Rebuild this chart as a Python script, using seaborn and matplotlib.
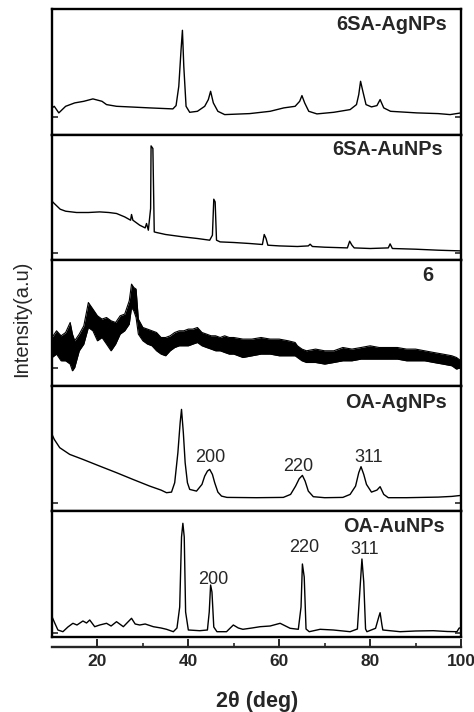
import numpy as np
import pandas as pd
import matplotlib
matplotlib.use("Agg")
import matplotlib.pyplot as plt
import seaborn as sns

# 2theta (deg) and intensity (a.u.), one panel per sample
ag6_x = [10, 10.5, 11.5, 13, 15, 17, 19, 21, 22, 24.2, 27, 31.5, 36.6, 37.3, 37.9, 38.4, 38.7,
         39.0, 39.5, 40.3, 42, 43.6, 44.4, 44.9, 45.5, 46.5, 48, 53.5, 58, 61, 63.5, 64.5, 65,
         65.6, 66.5, 68.3, 72, 75.6, 77, 77.5, 77.9, 78.4, 79.1, 80.3, 81.5, 82.2, 83, 84.5,
         90.3, 95, 97.6, 100]
ag6_y = [26.7, 28.3, 21.7, 28.3, 31.7, 33.3, 35.7, 33.3, 30, 28.3, 27.7, 26.7, 25.7, 29, 48.3,
         85, 104.3, 68.3, 28.3, 22.3, 23.3, 28.3, 35, 43.3, 31.7, 23.3, 20, 21, 23.3, 26.7, 28.3,
         33.3, 39, 31.7, 23.3, 20.7, 22.3, 25, 30, 40, 53.3, 43.3, 30, 27.7, 29, 35, 26.7, 23.3,
         21.7, 21, 20, 21.7]

au6_x = [10, 10.5, 11.8, 13, 15.4, 18, 20.5, 22.5, 24.2, 26, 27.3, 27.5, 27.8, 29.3, 30.5,
         30.8, 31.2, 31.7, 31.8, 32.2, 32.5, 33, 35, 38.9, 42, 44.7, 45.3, 45.6, 45.9, 46.2, 47,
         50, 53.5, 56.3, 56.7, 57.1, 57.5, 60, 64, 66.4, 66.8, 67.3, 70, 75, 75.5, 76, 76.5, 80,
         84, 84.4, 84.9, 90, 95, 100]
au6_y = [59, 56.7, 51, 49, 47.7, 47.7, 48.3, 47.7, 46.7, 43.3, 40, 45.7, 40, 35, 32.3, 36.7,
         30, 51.7, 114.3, 111.7, 28.3, 27.7, 25.7, 23.3, 21.7, 20, 25, 61, 58.3, 20, 18.3, 17.7,
         16.7, 15.7, 25.7, 21.7, 15, 14.3, 13.7, 14.3, 16, 13.7, 13, 12.3, 19, 15, 12.3, 11.7,
         12.3, 16.3, 11.7, 11, 10, 9.3]

# compound 6: very noisy, kept as the upper / lower edge of the noise band
c6_x = [10, 11, 12, 13, 14, 14.5, 15, 16, 17, 18, 19, 20, 21, 22, 23, 24, 25, 26, 27, 27.5, 28,
        28.5, 29, 30, 31, 32, 33, 34, 35, 36, 37, 38, 39, 40, 41, 42, 43, 44, 45, 46, 47, 48,
        49, 50, 52, 54, 56, 58, 60, 62, 63.5, 64, 65, 66, 68, 70, 72, 74, 76, 78, 80, 82, 84,
        86, 88, 90, 92, 94, 96, 98, 99, 100]
c6_hi = [48.3, 55, 50, 53.3, 63.3, 51.7, 45, 51.7, 60, 83.3, 76.7, 70, 66.7, 68.3, 65, 63.3, 70,
         71.7, 85, 101.7, 98.3, 96.7, 66.7, 58.3, 56.7, 55, 53.3, 48.3, 48.3, 50, 53.3, 55, 55,
         56.7, 56.7, 58.3, 53.3, 51.7, 50, 50, 48.3, 50, 48.3, 48.3, 46.7, 46.7, 48.3, 46.7, 46.7,
         45, 43.3, 40, 36.7, 35, 36.7, 35, 35, 38.3, 36.7, 38.3, 40, 38.3, 38.3, 38.3, 36.7, 36.7,
         35, 33.3, 31.7, 30, 28.3, 25]
c6_lo = [28.3, 31.7, 25, 25, 21.7, 15, 18.3, 35, 41.7, 58.3, 55, 45, 48.3, 41.7, 35, 41.7, 51.7,
         55, 61.7, 78.3, 75, 68.3, 51.7, 45, 41.7, 40, 35, 31.7, 30, 35, 38.3, 40, 40, 40, 41.7,
         43.3, 40, 38.3, 36.7, 35, 35, 33.3, 31.7, 31.7, 28.3, 30, 31.7, 31.7, 30, 30, 30, 28.3,
         25, 23.3, 23.3, 21.7, 23.3, 25, 25, 26.7, 26.7, 26.7, 26.7, 26.7, 25, 25, 25, 23.3, 21.7,
         20, 16.7, 18.3]

agoa_x = [10, 10.5, 11.7, 13.9, 16.8, 20.5, 24.2, 27.8, 31.5, 34, 35.2, 36.3, 37.0, 37.7, 38.2,
          38.5, 38.9, 39.3, 39.8, 40.3, 41.8, 43, 43.6, 44.2, 44.7, 45.3, 45.8, 46.5, 47.3, 48.5,
          55, 60.9, 62.5, 63.6, 64.4, 65.1, 65.7, 66.4, 67.5, 70, 74, 75.6, 76.8, 77.5, 78, 78.6,
          79.2, 80.3, 81.5, 82.2, 83, 84, 88, 95, 98, 100]
agoa_y = [77, 72, 63.7, 57, 52, 45.3, 38.7, 32, 25.3, 21.3, 18.7, 19.3, 28.7, 58.7, 88.7, 102,
          78.7, 48.7, 28.7, 22, 20.3, 27, 35.3, 40.3, 42, 37, 28.7, 19.3, 15.3, 14, 13.7, 14, 17,
          25.3, 32.7, 36, 30.3, 20.3, 14.7, 13.7, 14, 17, 25.3, 38.7, 44.7, 37, 27, 19.3, 21.3,
          24.7, 17, 13.7, 13.7, 14.3, 15, 16]

auoa_x = [10, 10.6, 11.3, 12.4, 13.5, 14.6, 15.5, 16.8, 17.6, 18.3, 19.4, 20.5, 22, 23, 24.2,
          25.7, 27.5, 28.3, 29.3, 30.5, 32.3, 34, 35.2, 36.7, 37.5, 38.1, 38.5, 38.8, 39.1, 39.4,
          40, 42.5, 44.2, 44.6, 44.9, 45.2, 45.6, 46.3, 48.4, 49.9, 51, 52, 54, 55.8, 58, 60.2,
          62.4, 64.2, 64.8, 65.1, 65.5, 65.9, 66.6, 69, 71.9, 75.6, 77.2, 77.8, 78.2, 78.6, 79.0,
          79.3, 81.2, 81.9, 82.2, 82.6, 82.8, 86.6, 90, 93.9, 97, 99.1, 99.6, 100]
auoa_y = [20.3, 14, 7, 5.3, 10, 13.7, 12, 16, 14, 17, 10.3, 12, 13.7, 11, 15.3, 10.3, 18.7, 13,
          12, 13, 10.3, 9, 7.7, 5.3, 9, 30, 100, 113.7, 100, 25, 7, 6.3, 7, 25, 52, 45, 10, 5.3,
          5.3, 12, 9, 7.7, 9, 10.3, 11, 13.7, 8.7, 7.7, 30, 73, 60, 8, 5.3, 7.7, 7, 5.3, 8, 50,
          78, 55, 8, 5.3, 8.7, 20, 24.3, 12, 7, 5.3, 6, 6.3, 5.5, 5.3, 9, 9]

panel_names = ["6SA-AgNPs", "6SA-AuNPs", "6", "OA-AgNPs", "OA-AuNPs"]
miller = {
    3: [("200", 44.8, 54), ("220", 64.2, 45), ("311", 79.6, 54)],
    4: [("220", 65.5, 90), ("311", 78.9, 88), ("200", 45.4, 58)],
}
xticks_major = [20, 40, 60, 80, 100]
xticks_minor = [30, 50, 70, 90]

sns.set_style("ticks")
plt.rcParams["font.family"] = ["Liberation Sans", "DejaVu Sans"]

W, H = 474, 712
fig = plt.figure(figsize=(W / 100, H / 100), dpi=100)

left_px, right_px = 52, 461
top_px, bottom_px = 9, 637
ph = (bottom_px - top_px) / 5
label_pos = [(0.966, 0.873), (0.956, 0.88), (0.932, 0.876), (0.966, 0.87), (0.961, 0.876)]
ytick_at = [18, 7, 18, 8, 4]

series = [(ag6_x, ag6_y), (au6_x, au6_y), None, (agoa_x, agoa_y), (auoa_x, auoa_y)]

for i in range(5):
    t = top_px + i * ph
    ax = fig.add_axes([left_px / W, 1 - (t + ph) / H, (right_px - left_px) / W, ph / H])
    if series[i] is None:
        df = pd.DataFrame({"x": c6_x, "hi": c6_hi, "lo": c6_lo})
        ax.fill_between(df["x"], df["lo"], df["hi"], color="black", linewidth=0)
        sns.lineplot(data=df, x="x", y="hi", ax=ax, color="black", linewidth=0.8, estimator=None)
        sns.lineplot(data=df, x="x", y="lo", ax=ax, color="black", linewidth=0.8, estimator=None)
    else:
        df = pd.DataFrame({"x": series[i][0], "y": series[i][1]})
        sns.lineplot(data=df, x="x", y="y", ax=ax, color="black", linewidth=1.0, estimator=None)
    ax.set_xlim(10, 100)
    ax.set_ylim(0, ph)
    ax.set_xlabel("")
    ax.set_ylabel("")
    ax.set_xticks([])
    ax.set_yticks([ytick_at[i]])
    ax.tick_params(axis="y", direction="in", length=4, width=1.2, left=True, right=True,
                   labelleft=False)
    for sp in ax.spines.values():
        sp.set_visible(True)
        sp.set_linewidth(1.7)
        sp.set_color("black")
    lx, ly = label_pos[i]
    ax.text(lx, ly, panel_names[i], transform=ax.transAxes, ha="right", va="center",
            fontsize=14.3, fontweight="bold")
    for txt, mx, my in miller.get(i, []):
        ax.text(mx, my, txt, ha="center", va="center", fontsize=13)

# separate 2theta axis under the stack
axx = fig.add_axes([left_px / W, 1 - 647 / H, (right_px - left_px) / W, 0.0001])
axx.set_xlim(10, 100)
axx.set_yticks([])
for k in ["left", "right", "top"]:
    axx.spines[k].set_visible(False)
axx.spines["bottom"].set_linewidth(1.7)
axx.set_xticks(xticks_major)
axx.set_xticks(xticks_minor, minor=True)
axx.tick_params(axis="x", which="major", direction="in", length=6, width=1.4, pad=5,
                labelsize=12.5)
axx.tick_params(axis="x", which="minor", direction="in", length=3, width=1.2)
for lab in axx.get_xticklabels():
    lab.set_fontweight("bold")
axx.patch.set_visible(False)

fig.text(257 / W, 1 - 701 / H, "2θ (deg)", ha="center", va="center", fontsize=15.5,
         fontweight="bold")
fig.text(22 / W, 1 - 319 / H, "Intensity(a.u)", ha="center", va="center", rotation=90,
         fontsize=14.5)

fig.savefig("out.png", dpi=100)
